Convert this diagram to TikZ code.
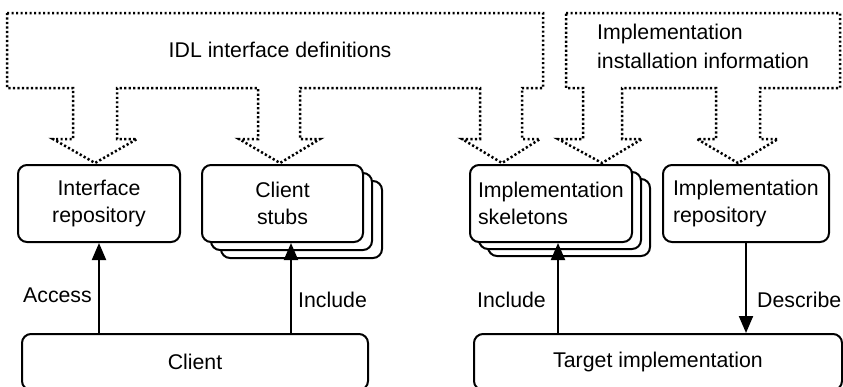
\documentclass[tikz,border=0pt]{standalone}
\usepackage{fontspec}
\setmainfont{Liberation Sans}
\usetikzlibrary{arrows.meta,calc}
\begin{document}
\begin{tikzpicture}[x=1pt,y=-1pt,
  txt/.style={font=\fontsize{21.3}{27}\selectfont},
  box/.style={draw, line width=2pt, rounded corners=9pt, fill=white, inner sep=0pt, txt},
  feed/.style={draw, line width=2.5pt, dash pattern=on 2.2pt off 2.3pt},
  link/.style={line width=2pt, -{Triangle[length=17pt,width=14pt]}},
  lbl/.style={inner sep=0pt, txt}]
\useasboundingbox (0,0) rectangle (843,386);

% dotted block arrows: interface definitions
\draw[feed] (7,13) -- (543,13) -- (543,88) -- (522,88) -- (522,139) -- (540,139)
  -- (502,163) -- (462,139) -- (480,139) -- (480,88) -- (300,88) -- (300,139)
  -- (320,139) -- (280,163) -- (239,139) -- (258,139) -- (258,88) -- (117,88)
  -- (117,139) -- (137,139) -- (95,163) -- (53,139) -- (73,139) -- (73,88)
  -- (7,88) -- cycle;
\node[lbl, anchor=base] (idl) at (280,57) {IDL interface definitions};

% dotted block arrows: installation information
\draw[feed] (566,13) -- (840,13) -- (840,88) -- (760,88) -- (760,139) -- (778,139)
  -- (738,163) -- (697,139) -- (716,139) -- (716,88) -- (622,88) -- (622,139)
  -- (642,139) -- (602,163) -- (558,139) -- (583,139) -- (583,88) -- (566,88) -- cycle;
\node[lbl, anchor=base west] (inst1) at (597,39) {Implementation};
\node[lbl, anchor=base west] (inst2) at (597,68) {installation information};

% upper row
\node[box, minimum width=162pt, minimum height=77pt, align=center] (ir) at (99,203.5) {Interface\\repository};

\draw[box] (221,181) rectangle (382,258);
\draw[box] (211,173) rectangle (372,250);
\node[box, minimum width=161pt, minimum height=77pt, align=center] (cs) at (282.5,203.5) {Client\\stubs};

\draw[box] (488,179) rectangle (650,256);
\draw[box] (479,172) rectangle (641,249);
\node[box, minimum width=162pt, minimum height=77pt, text width=146pt, align=left] (sk) at (551,203.5) {Implementation\\skeletons};

\node[box, minimum width=166pt, minimum height=77pt, text width=146pt, align=left] (rep) at (746,203.5) {Implementation\\repository};

% lower row
\node[box, minimum width=346pt, minimum height=56pt] (client) at (195,362) {Client};
\node[box, minimum width=368pt, minimum height=56pt] (target) at (658,362) {Target implementation};

% connectors
\coordinate (csin) at ($(cs.south)+(8.5,0)$);
\coordinate (skin) at ($(sk.south)+(7,0)$);
\draw[link] (ir.south |- client.north) -- (ir.south);
\draw[link] (csin |- client.north) -- (csin);
\draw[link] (skin |- target.north) -- (skin);
\draw[link] (rep.south) -- (rep.south |- target.north);

\node[lbl, anchor=base east] (access) at (92,302) {Access};
\node[lbl, anchor=base west] (incl1) at (298,307) {Include};
\node[lbl, anchor=base east] (incl2) at (546,307) {Include};
\node[lbl, anchor=base west] (descr) at (757,307) {Describe};
\end{tikzpicture}
\end{document}
